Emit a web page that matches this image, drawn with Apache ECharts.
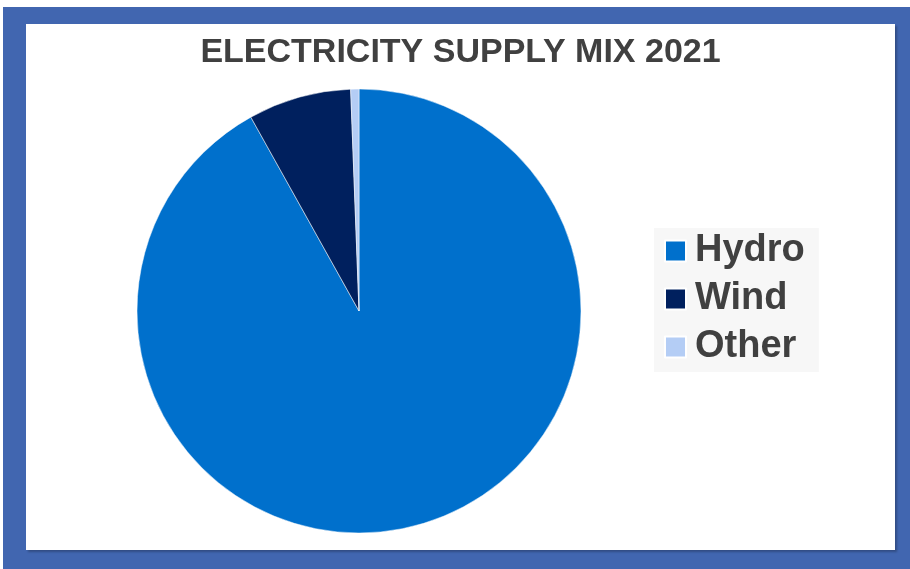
<!DOCTYPE html>
<html>
<head>
<meta charset="utf-8">
<script src="https://cdn.jsdelivr.net/npm/echarts@6/dist/echarts.min.js"></script>
<style>
    html, body { margin: 0; padding: 0; background: #fff; }
    #frame {
        position: absolute; left: 3px; top: 7px; width: 907px; height: 562px;
        background: #4166b0;
    }
    #chart {
        position: absolute; left: 23px; top: 17px; width: 869px; height: 526px;
        background: #fff; box-shadow: 2px 2px 2px rgba(0, 0, 0, 0.25);
    }
</style>
</head>
<body>
<div id="frame"><div id="chart"></div></div>
<script>
// supply mix, percent
const categories = ['Hydro', 'Wind', 'Other']
const shares = [91.9, 7.5, 0.6]
const colors = ['#0070cc', '#00205e', '#b4cdf5']

const chart = echarts.init(document.getElementById('chart'))
chart.setOption({
    animation: false,
    title: {
        text: 'ELECTRICITY SUPPLY MIX 2021',
        left: 'center',
        top: 7,
        textStyle: {
            fontFamily: 'Liberation Sans',
            fontSize: 34,
            fontWeight: 'bold',
            color: '#404040'
        }
    },
    legend: {
        orient: 'vertical',
        left: 628,
        top: 204,
        padding: [4, 14, 6, 10],
        backgroundColor: '#f7f7f7',
        itemWidth: 21,
        itemHeight: 21,
        itemGap: 10,
        icon: 'rect',
        data: categories,
        textStyle: {
            fontFamily: 'Liberation Sans',
            fontSize: 38,
            fontWeight: 'bold',
            color: '#404040',
            padding: [0, 0, 0, 4]
        }
    },
    series: [
        {
            type: 'pie',
            center: [333, 287],
            radius: 222,
            startAngle: 90,
            clockwise: true,
            label: { show: false },
            labelLine: { show: false },
            itemStyle: { borderColor: '#fff', borderWidth: 0.5 },
            data: categories.map((name, i) => ({
                name,
                value: shares[i],
                itemStyle: { color: colors[i] }
            }))
        }
    ]
})
</script>
</body>
</html>
